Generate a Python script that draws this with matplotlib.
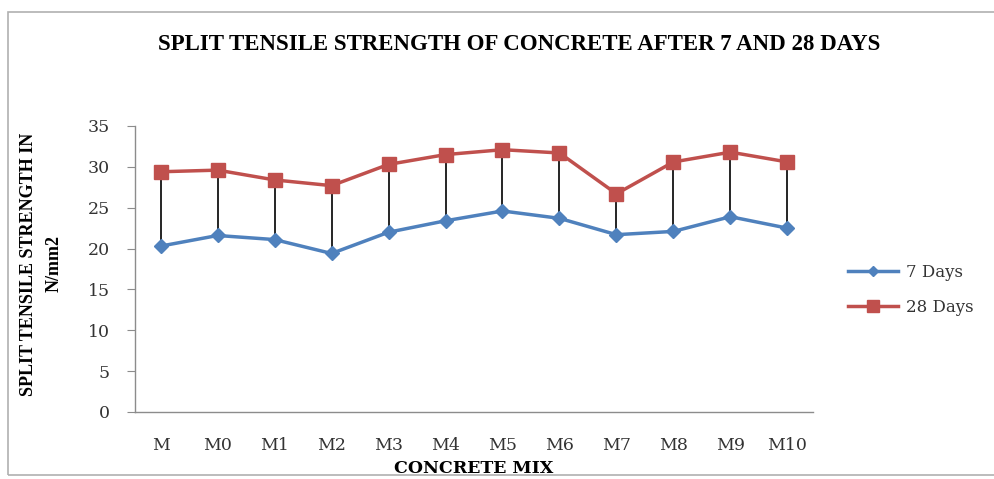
import matplotlib.pyplot as plt
from matplotlib.patches import Rectangle

# data
mixes = ["M", "M0", "M1", "M2", "M3", "M4", "M5", "M6", "M7", "M8", "M9", "M10"]
days7 = [20.3, 21.6, 21.1, 19.4, 22.0, 23.4, 24.6, 23.7, 21.7, 22.1, 23.9, 22.5]
days28 = [29.4, 29.6, 28.4, 27.7, 30.3, 31.5, 32.1, 31.7, 26.7, 30.6, 31.8, 30.6]
yticks = [0, 5, 10, 15, 20, 25, 30, 35]

BLUE = "#4F81BD"
RED = "#C0504D"
GRAY = "#8c8c8c"
SERIF = ["Liberation Serif", "DejaVu Serif"]
WIDE = ["DejaVu Serif"]

fig = plt.figure(figsize=(9.95, 4.79), dpi=100)
fig.patch.set_facecolor("white")

# outer chart frame
fig.patches.append(Rectangle((8 / 995, 4 / 479), 1.2, 463 / 479,
                             transform=fig.transFigure, fill=False,
                             edgecolor="#b0b0b0", linewidth=1.2))

ax = fig.add_axes([135 / 995, 67 / 479, 678 / 995, 286 / 479])
x = list(range(len(mixes)))

# high-low lines between the two series
ax.vlines(x, days7, days28, colors="black", linewidth=1.2, zorder=2)

ax.plot(x, days7, color=BLUE, linewidth=2.5, marker="D", markersize=7,
        label="7 Days", zorder=3)
ax.plot(x, days28, color=RED, linewidth=2.5, marker="s", markersize=10,
        label="28 Days", zorder=3)

ax.set_xlim(-0.45, len(mixes) - 0.55)
ax.set_ylim(0, 35)
ax.set_yticks(yticks)
ax.set_xticks(x)
ax.set_xticklabels(mixes)

for s in ["top", "right"]:
    ax.spines[s].set_visible(False)
for s in ["left", "bottom"]:
    ax.spines[s].set_color(GRAY)
    ax.spines[s].set_linewidth(1.0)

ax.tick_params(axis="y", direction="out", length=6, color=GRAY, pad=12,
               labelsize=12.5, labelcolor="#333333")
ax.tick_params(axis="x", length=0, pad=18, labelsize=12.5, labelcolor="#333333")
for lab in ax.get_xticklabels() + ax.get_yticklabels():
    lab.set_family(WIDE)

ax.set_xlabel("CONCRETE MIX", family=WIDE, fontweight="bold", fontsize=12.5,
              labelpad=4)
fig.text(41 / 995, 1 - 264 / 479, "SPLIT TENSILE STRENGTH IN\nN/mm2",
         rotation=90, ha="center", va="center", family=SERIF,
         fontweight="bold", fontsize=13, linespacing=1.65)

fig.text(519 / 995, 1 - 45 / 479,
         "SPLIT TENSILE STRENGTH OF CONCRETE AFTER 7 AND 28 DAYS",
         ha="center", va="center", family=SERIF, fontweight="bold",
         fontsize=16.5)

leg = fig.legend(loc="center left", bbox_to_anchor=(833 / 995, 1 - 290 / 479),
                 frameon=False, handlelength=3.0, handletextpad=0.5,
                 labelspacing=1.1, markerscale=0.8,
                 prop={"family": WIDE, "size": 12})
for t in leg.get_texts():
    t.set_color("#333333")

fig.savefig("out.png", dpi=100, facecolor="white")
